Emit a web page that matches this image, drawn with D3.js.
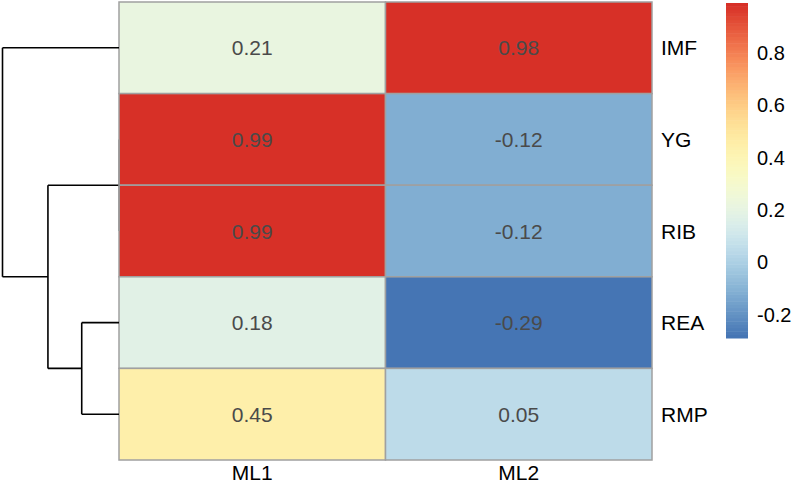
<!DOCTYPE html>
<html>
<head>
<meta charset="utf-8">
<script src="https://cdn.jsdelivr.net/npm/d3@7"></script>
<style>
  body { margin: 0; background: #fff; }
  svg { display: block; font-family: "Liberation Sans", Arial, sans-serif; }
</style>
</head>
<body>
<svg width="796" height="484"></svg>
<script>
// rows are in dendrogram order, top to bottom
const rows = ["IMF", "YG", "RIB", "REA", "RMP"];
const cols = ["ML1", "ML2"];
const ml1 = [0.21, 0.99, 0.99, 0.18, 0.45];
const ml2 = [0.98, -0.12, -0.12, -0.29, 0.05];
const legendTicks = [-0.2, 0, 0.2, 0.4, 0.6, 0.8];
const palette = ["#4575B4", "#91BFDB", "#E0F3F8", "#FFFFBF", "#FEE090", "#FC8D59", "#D73027"];

// row clustering (heights, root = 1)
const tree = {
  height: 1, children: [
    { name: "IMF" },
    { height: 0.61, children: [
      { height: 0, children: [{ name: "YG" }, { name: "RIB" }] },
      { height: 0.32, children: [{ name: "REA" }, { name: "RMP" }] }
    ]}
  ]
};

const svg = d3.select("svg");
const x0 = 119, x1 = 652, y0 = 2, y1 = 460;

const x = d3.scaleBand().domain(cols).range([x0, x1]);
const y = d3.scaleBand().domain(rows).range([y0, y1]);

const vmin = d3.min([...ml1, ...ml2]), vmax = d3.max([...ml1, ...ml2]);
const ramp = d3.interpolateRgbBasis(palette);
// pheatmap style: 100 discrete colours between min and max
const nCol = 100;
const colour = v => {
  let i = Math.floor((v - vmin) / (vmax - vmin) * nCol);
  i = Math.max(0, Math.min(nCol - 1, i));
  return ramp(i / (nCol - 1));
};

const cells = [];
rows.forEach((r, i) => {
  cells.push({ row: r, col: "ML1", v: ml1[i] });
  cells.push({ row: r, col: "ML2", v: ml2[i] });
});

const cell = svg.append("g").selectAll("g.cell")
  .data(cells)
  .enter().append("g")
  .attr("class", "cell");

cell.append("rect")
  .attr("x", d => x(d.col))
  .attr("y", d => y(d.row))
  .attr("width", x.bandwidth())
  .attr("height", y.bandwidth())
  .attr("fill", d => colour(d.v))
  .attr("stroke", "#a0a0a0")
  .attr("stroke-width", 1.5);

cell.append("text")
  .attr("x", d => x(d.col) + x.bandwidth() / 2)
  .attr("y", d => y(d.row) + y.bandwidth() / 2)
  .attr("dy", "0.36em")
  .attr("text-anchor", "middle")
  .attr("font-size", 21)
  .attr("fill", "#4a4a4a")
  .text(d => d.v.toFixed(2));

// row labels
svg.append("g").selectAll("text")
  .data(rows)
  .enter().append("text")
  .attr("x", x1 + 9)
  .attr("y", d => y(d) + y.bandwidth() / 2)
  .attr("dy", "0.36em")
  .attr("font-size", 21)
  .attr("fill", "#000")
  .text(d => d);

// column labels
svg.append("g").selectAll("text")
  .data(cols)
  .enter().append("text")
  .attr("x", d => x(d) + x.bandwidth() / 2)
  .attr("y", y1 + 20)
  .attr("text-anchor", "middle")
  .attr("font-size", 21)
  .attr("fill", "#000")
  .text(d => d);

// dendrogram
const root = d3.hierarchy(tree);
const hx = d3.scaleLinear().domain([0, 1]).range([x0, 2.5]);
root.eachAfter(n => {
  if (!n.children) {
    n.px = x0;
    n.py = y(n.data.name) + y.bandwidth() / 2;
  } else {
    n.px = hx(n.data.height);
    n.py = d3.mean(n.children, c => c.py);
  }
});

const dendro = svg.append("g")
  .attr("fill", "none")
  .attr("stroke", "#000")
  .attr("stroke-width", 1.6);

root.descendants().filter(n => n.children).forEach(n => {
  const ys = n.children.map(c => c.py);
  dendro.append("path")
    .attr("stroke", n.data.height === 0 ? "#999" : "#000")
    .attr("d", `M${n.px},${d3.min(ys)}V${d3.max(ys)}`);
  n.children.forEach(c => {
    dendro.append("path")
      .attr("d", `M${n.px},${c.py}H${c.px}`);
  });
});

// colour legend
const ly = d3.scaleLinear().domain([vmin, vmax]).range([338, 3]);
const legend = svg.append("g");
const steps = d3.range(nCol);
const stepH = (ly(vmin) - ly(vmax)) / nCol;
legend.selectAll("rect")
  .data(steps)
  .enter().append("rect")
  .attr("x", 726)
  .attr("y", i => ly(vmin) - (i + 1) * stepH)
  .attr("width", 22)
  .attr("height", stepH + 0.5)
  .attr("fill", i => ramp(i / (nCol - 1)));

legend.selectAll("text")
  .data(legendTicks)
  .enter().append("text")
  .attr("x", 757)
  .attr("y", d => ly(d))
  .attr("dy", "0.36em")
  .attr("font-size", 20)
  .attr("fill", "#000")
  .text(d => String(d));
</script>
</body>
</html>
